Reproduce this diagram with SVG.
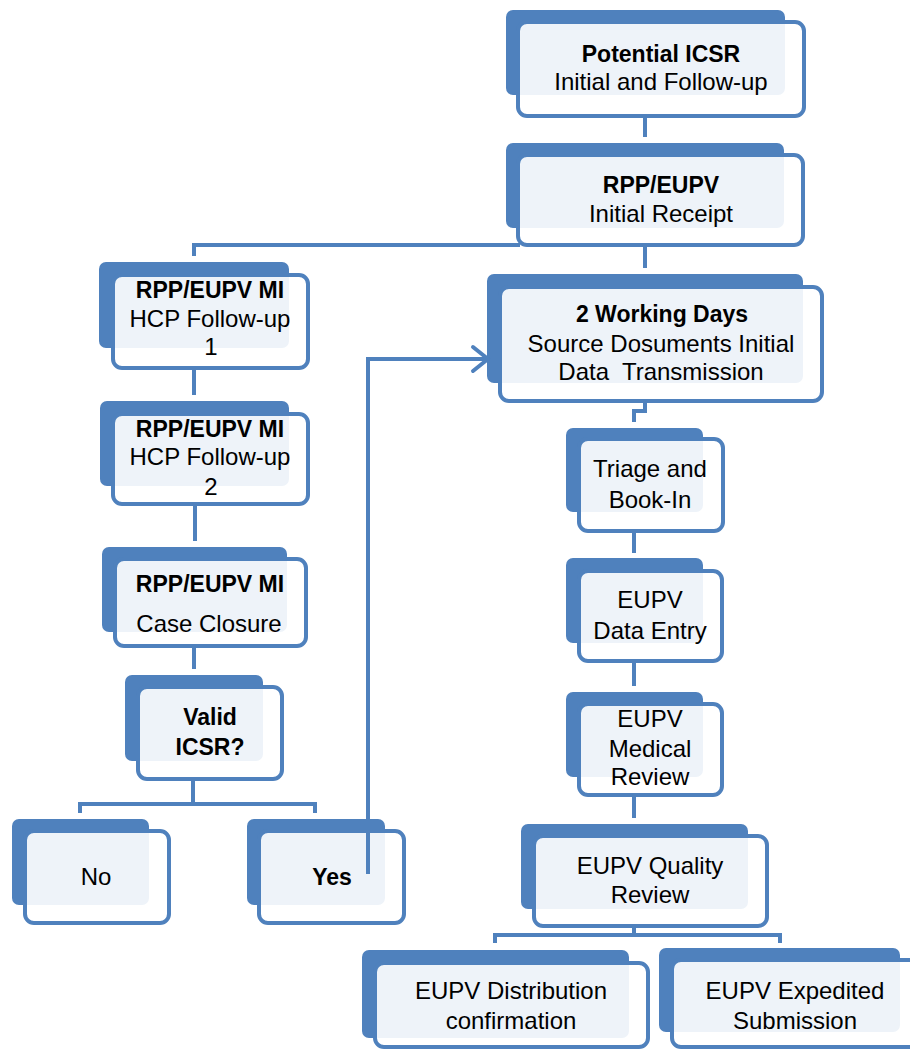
<svg xmlns="http://www.w3.org/2000/svg" width="910" height="1050" viewBox="0 0 910 1050">
<style>
.bk{fill:#4F81BD}
.fr{fill:#FFFFFF;fill-opacity:0.9;stroke:#4F81BD;stroke-width:4}
.t{font-family:"Liberation Sans",Arial,sans-serif;font-size:24px;fill:#000;text-anchor:middle}
.b{font-weight:bold;font-size:23px}
.c{fill:none;stroke:#4F81BD;stroke-width:4}
</style>
<rect width="910" height="1050" fill="#FFFFFF"/>
<g id="n1"><rect class="bk" x="506" y="10" width="279" height="85" rx="7"/><rect class="fr" x="518" y="22" width="286" height="94" rx="9"/>
<text class="t b" x="661" y="62">Potential ICSR</text><text class="t" x="661" y="90">Initial and Follow-up</text></g>
<g id="n2"><rect class="bk" x="506" y="143" width="278" height="85" rx="7"/><rect class="fr" x="518" y="155" width="285" height="90" rx="9"/>
<text class="t b" x="661" y="193">RPP/EUPV</text><text class="t" x="661" y="222">Initial Receipt</text></g>
<g id="n3"><rect class="bk" x="99" y="262" width="190" height="86" rx="7"/><rect class="fr" x="113" y="275" width="195" height="93" rx="9"/>
<text class="t b" x="210" y="298">RPP/EUPV MI</text><text class="t" x="210" y="327">HCP Follow-up</text><text class="t" x="211" y="355">1</text></g>
<g id="n4"><rect class="bk" x="100" y="401" width="189" height="85" rx="7"/><rect class="fr" x="113" y="414" width="195" height="90" rx="9"/>
<text class="t b" x="210" y="437">RPP/EUPV MI</text><text class="t" x="210" y="465">HCP Follow-up</text><text class="t" x="211" y="495">2</text></g>
<g id="n5"><rect class="bk" x="102" y="547" width="185" height="85" rx="7"/><rect class="fr" x="115" y="559" width="191" height="87" rx="9"/>
<text class="t b" x="210" y="592">RPP/EUPV MI</text><text class="t" x="209" y="632">Case Closure</text></g>
<g id="n6"><rect class="bk" x="125" y="675" width="138" height="86" rx="7"/><rect class="fr" x="138" y="687" width="144" height="92" rx="9"/>
<text class="t b" x="210" y="725">Valid</text><text class="t b" x="210" y="755">ICSR?</text></g>
<g id="n7"><rect class="bk" x="12" y="819" width="137" height="86" rx="7"/><rect class="fr" x="25" y="831" width="144" height="92" rx="9"/>
<text class="t" x="96" y="885">No</text></g>
<g id="n8"><rect class="bk" x="247" y="819" width="138" height="86" rx="7"/><rect class="fr" x="259" y="831" width="145" height="92" rx="9"/>
<text class="t b" x="332" y="885">Yes</text></g>
<g id="n9"><rect class="bk" x="487" y="274" width="316" height="109" rx="7"/><rect class="fr" x="500" y="287" width="322" height="114" rx="9"/>
<text class="t b" x="662" y="322">2 Working Days</text><text class="t" x="661" y="352">Source Dosuments Initial</text><text class="t" x="661" y="380" style="white-space:pre">Data  Transmission</text></g>
<g id="n10"><rect class="bk" x="566" y="428" width="137" height="84" rx="7"/><rect class="fr" x="579" y="439" width="144" height="92" rx="9"/>
<text class="t" x="650" y="477">Triage and</text><text class="t" x="650" y="508">Book-In</text></g>
<g id="n11"><rect class="bk" x="566" y="558" width="137" height="85" rx="7"/><rect class="fr" x="579" y="571" width="143" height="90" rx="9"/>
<text class="t" x="650" y="608">EUPV</text><text class="t" x="650" y="639">Data Entry</text></g>
<g id="n12"><rect class="bk" x="566" y="692" width="137" height="85" rx="7"/><rect class="fr" x="579" y="704" width="143" height="91" rx="9"/>
<text class="t" x="650" y="727">EUPV</text><text class="t" x="650" y="757">Medical</text><text class="t" x="650" y="785">Review</text></g>
<g id="n13"><rect class="bk" x="521" y="824" width="227" height="85" rx="7"/><rect class="fr" x="534" y="836" width="233" height="90" rx="9"/>
<text class="t" x="650" y="874">EUPV Quality</text><text class="t" x="650" y="903">Review</text></g>
<g id="n14"><rect class="bk" x="362" y="950" width="267" height="88" rx="7"/><rect class="fr" x="375" y="963" width="273" height="84" rx="9"/>
<text class="t" x="511" y="999">EUPV Distribution</text><text class="t" x="511" y="1029">confirmation</text></g>
<g id="n15"><rect class="bk" x="659" y="948" width="241" height="84" rx="7"/><rect class="fr" x="672" y="960" width="260" height="87" rx="9"/>
<text class="t" x="795" y="999">EUPV Expedited</text><text class="t" x="795" y="1029">Submission</text></g>
<g id="connectors">
<path class="c" d="M645,118 V137"/>
<path class="c" d="M645,247 V268"/>
<path class="c" d="M520,245 H194 V256"/>
<path class="c" d="M194,370 V395"/>
<path class="c" d="M195,506 V541"/>
<path class="c" d="M194,648 V669"/>
<path class="c" d="M193,781 V804"/>
<path class="c" d="M80,813 V804 H315 V813"/>
<path class="c" d="M368,872 V359 H487" stroke-linecap="square"/>
<path class="c" d="M473,347 L488,359 L473,371" stroke-linecap="round" stroke-linejoin="round"/>
<path class="c" d="M645,403 V411 H634 V422"/>
<path class="c" d="M634,533 V553"/>
<path class="c" d="M634,663 V686"/>
<path class="c" d="M634,797 V818"/>
<path class="c" d="M634,928 V935"/>
<path class="c" d="M495,943 V935 H780 V943"/>
</g>
</svg>
